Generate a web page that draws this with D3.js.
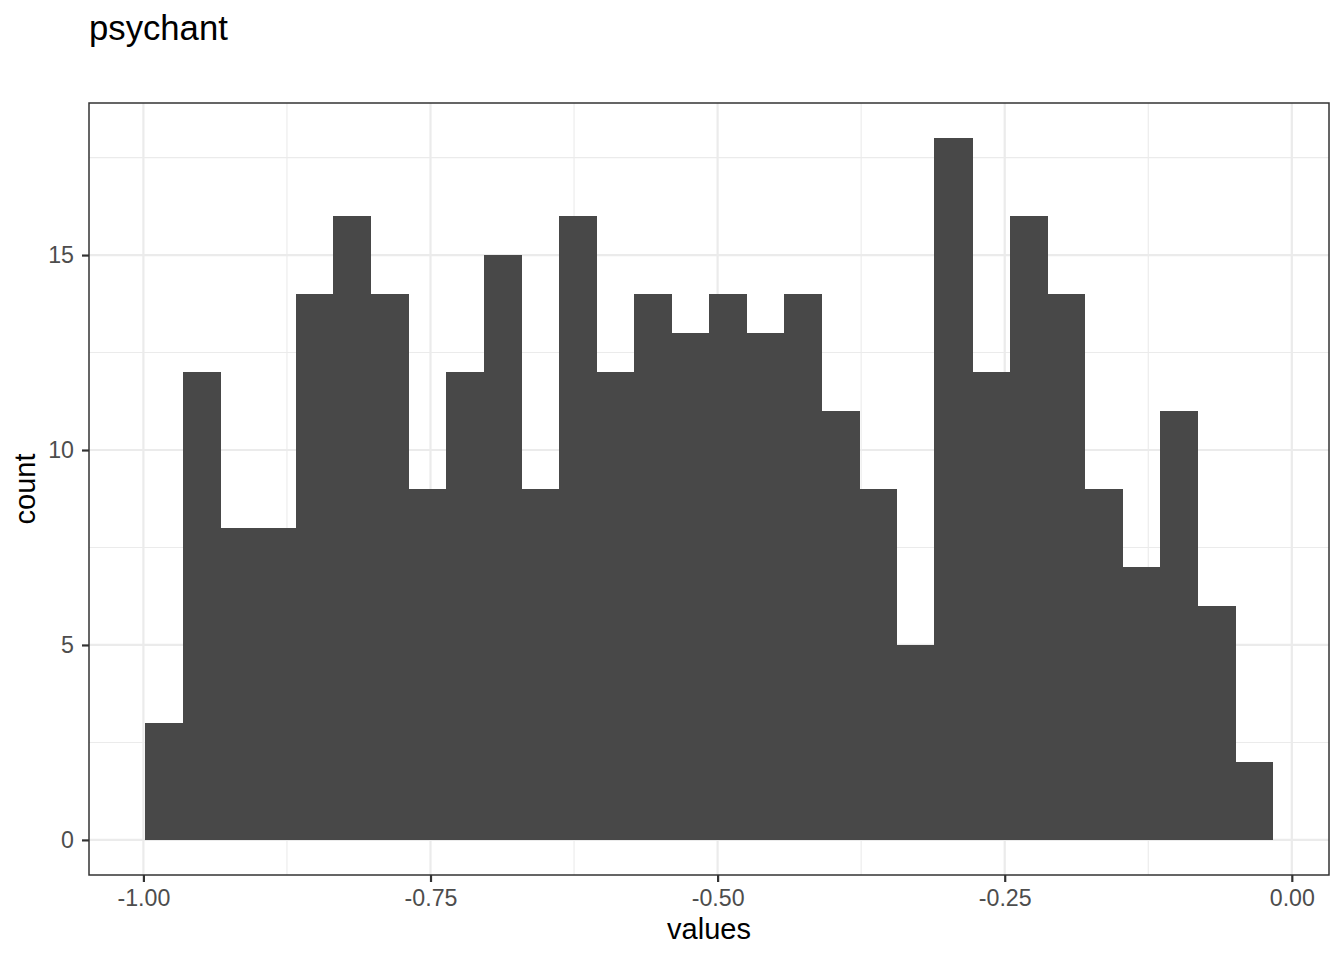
<!DOCTYPE html>
<html>
<head>
<meta charset="utf-8">
<script src="https://cdn.jsdelivr.net/npm/d3@7"></script>
<style>
  body { margin: 0; background: #fff; }
  text { font-family: "Liberation Sans", Arial, sans-serif; }
</style>
</head>
<body>
<div id="chart"></div>
<script>
// histogram of "psychant" values, 30 bins
const title = 'psychant'
const binStart = -0.9983
const binWidth = 0.03272
const counts = [3, 12, 8, 8, 14, 16, 14, 9, 12, 15, 9, 16, 12, 14, 13, 14, 13, 14, 11, 9, 5, 18, 12, 16, 14, 9, 7, 11, 6, 2]
const xTicks = [-1, -0.75, -0.5, -0.25, 0]
const xMinor = [-0.875, -0.625, -0.375, -0.125]
const yTicks = [0, 5, 10, 15]
const yMinor = [2.5, 7.5, 12.5, 17.5]

const width = 1344
const height = 960
const margin = { top: 103, right: 15, bottom: 85, left: 89 }

const bins = counts.map((c, i) => ({
  x0: binStart + i * binWidth,
  x1: binStart + (i + 1) * binWidth,
  count: c,
}))

// ggplot style 5% expansion
const xMin = bins[0].x0
const xMax = bins[bins.length - 1].x1
const xPad = (xMax - xMin) * 0.05
const yMax = d3.max(counts)
const yPad = yMax * 0.05

const x = d3
  .scaleLinear()
  .domain([xMin - xPad, xMax + xPad])
  .range([margin.left, width - margin.right])

const y = d3
  .scaleLinear()
  .domain([-yPad, yMax + yPad])
  .range([height - margin.bottom, margin.top])

const svg = d3
  .select('#chart')
  .append('svg')
  .attr('width', width)
  .attr('height', height)

// Panel background
svg
  .append('rect')
  .attr('x', margin.left)
  .attr('y', margin.top)
  .attr('width', width - margin.left - margin.right)
  .attr('height', height - margin.top - margin.bottom)
  .style('fill', '#fff')

// Minor grid
const grid = svg.append('g').attr('class', 'grid')
grid
  .selectAll('.xminor')
  .data(xMinor)
  .enter()
  .append('line')
  .attr('x1', (d) => x(d))
  .attr('x2', (d) => x(d))
  .attr('y1', margin.top)
  .attr('y2', height - margin.bottom)
  .style('stroke', '#EBEBEB')
  .style('stroke-width', 1.1)
grid
  .selectAll('.yminor')
  .data(yMinor)
  .enter()
  .append('line')
  .attr('x1', margin.left)
  .attr('x2', width - margin.right)
  .attr('y1', (d) => y(d))
  .attr('y2', (d) => y(d))
  .style('stroke', '#EBEBEB')
  .style('stroke-width', 1.1)

// Major grid
grid
  .selectAll('.xmajor')
  .data(xTicks)
  .enter()
  .append('line')
  .attr('x1', (d) => x(d))
  .attr('x2', (d) => x(d))
  .attr('y1', margin.top)
  .attr('y2', height - margin.bottom)
  .style('stroke', '#EBEBEB')
  .style('stroke-width', 2.2)
grid
  .selectAll('.ymajor')
  .data(yTicks)
  .enter()
  .append('line')
  .attr('x1', margin.left)
  .attr('x2', width - margin.right)
  .attr('y1', (d) => y(d))
  .attr('y2', (d) => y(d))
  .style('stroke', '#EBEBEB')
  .style('stroke-width', 2.2)

// Bars
svg
  .append('g')
  .attr('class', 'bars')
  .selectAll('rect')
  .data(bins)
  .enter()
  .append('rect')
  .attr('x', (d) => x(d.x0))
  .attr('y', (d) => y(d.count))
  .attr('width', (d) => x(d.x1) - x(d.x0) + 0.5)
  .attr('height', (d) => y(0) - y(d.count))
  .attr('shape-rendering', 'crispEdges')
  .style('fill', '#484848')

// Panel border
svg
  .append('rect')
  .attr('x', margin.left)
  .attr('y', margin.top)
  .attr('width', width - margin.left - margin.right)
  .attr('height', height - margin.top - margin.bottom)
  .style('fill', 'none')
  .style('stroke', '#333333')
  .style('stroke-width', 1.5)

// Axes
const xAxis = svg
  .append('g')
  .attr('transform', `translate(0,${height - margin.bottom})`)
  .call(d3.axisBottom(x).tickValues(xTicks).tickFormat(d3.format('.2f')).tickSize(7).tickPadding(8))
const yAxis = svg
  .append('g')
  .attr('transform', `translate(${margin.left},0)`)
  .call(d3.axisLeft(y).tickValues(yTicks).tickFormat(d3.format('d')).tickSize(7).tickPadding(8))

;[xAxis, yAxis].forEach((ax) => {
  ax.select('.domain').remove()
  ax.selectAll('.tick line').style('stroke', '#333333').style('stroke-width', 2.2)
  ax.selectAll('.tick text')
    .style('font-size', '23.2px')
    .style('fill', '#4D4D4D')
    .style('font-family', '"Liberation Sans", Arial, sans-serif')
})
xAxis.selectAll('.tick text').text((d) => d3.format('.2f')(d).replace('−', '-'))

// Title and axis titles
svg
  .append('text')
  .attr('x', margin.left)
  .attr('y', 40)
  .style('font-size', '34.7px')
  .style('fill', '#000')
  .text(title)

svg
  .append('text')
  .attr('x', (margin.left + width - margin.right) / 2)
  .attr('y', 939)
  .attr('text-anchor', 'middle')
  .style('font-size', '29px')
  .style('fill', '#000')
  .text('values')

svg
  .append('text')
  .attr('transform', `translate(35,${(margin.top + height - margin.bottom) / 2}) rotate(-90)`)
  .attr('text-anchor', 'middle')
  .style('font-size', '29px')
  .style('fill', '#000')
  .text('count')
</script>
</body>
</html>
